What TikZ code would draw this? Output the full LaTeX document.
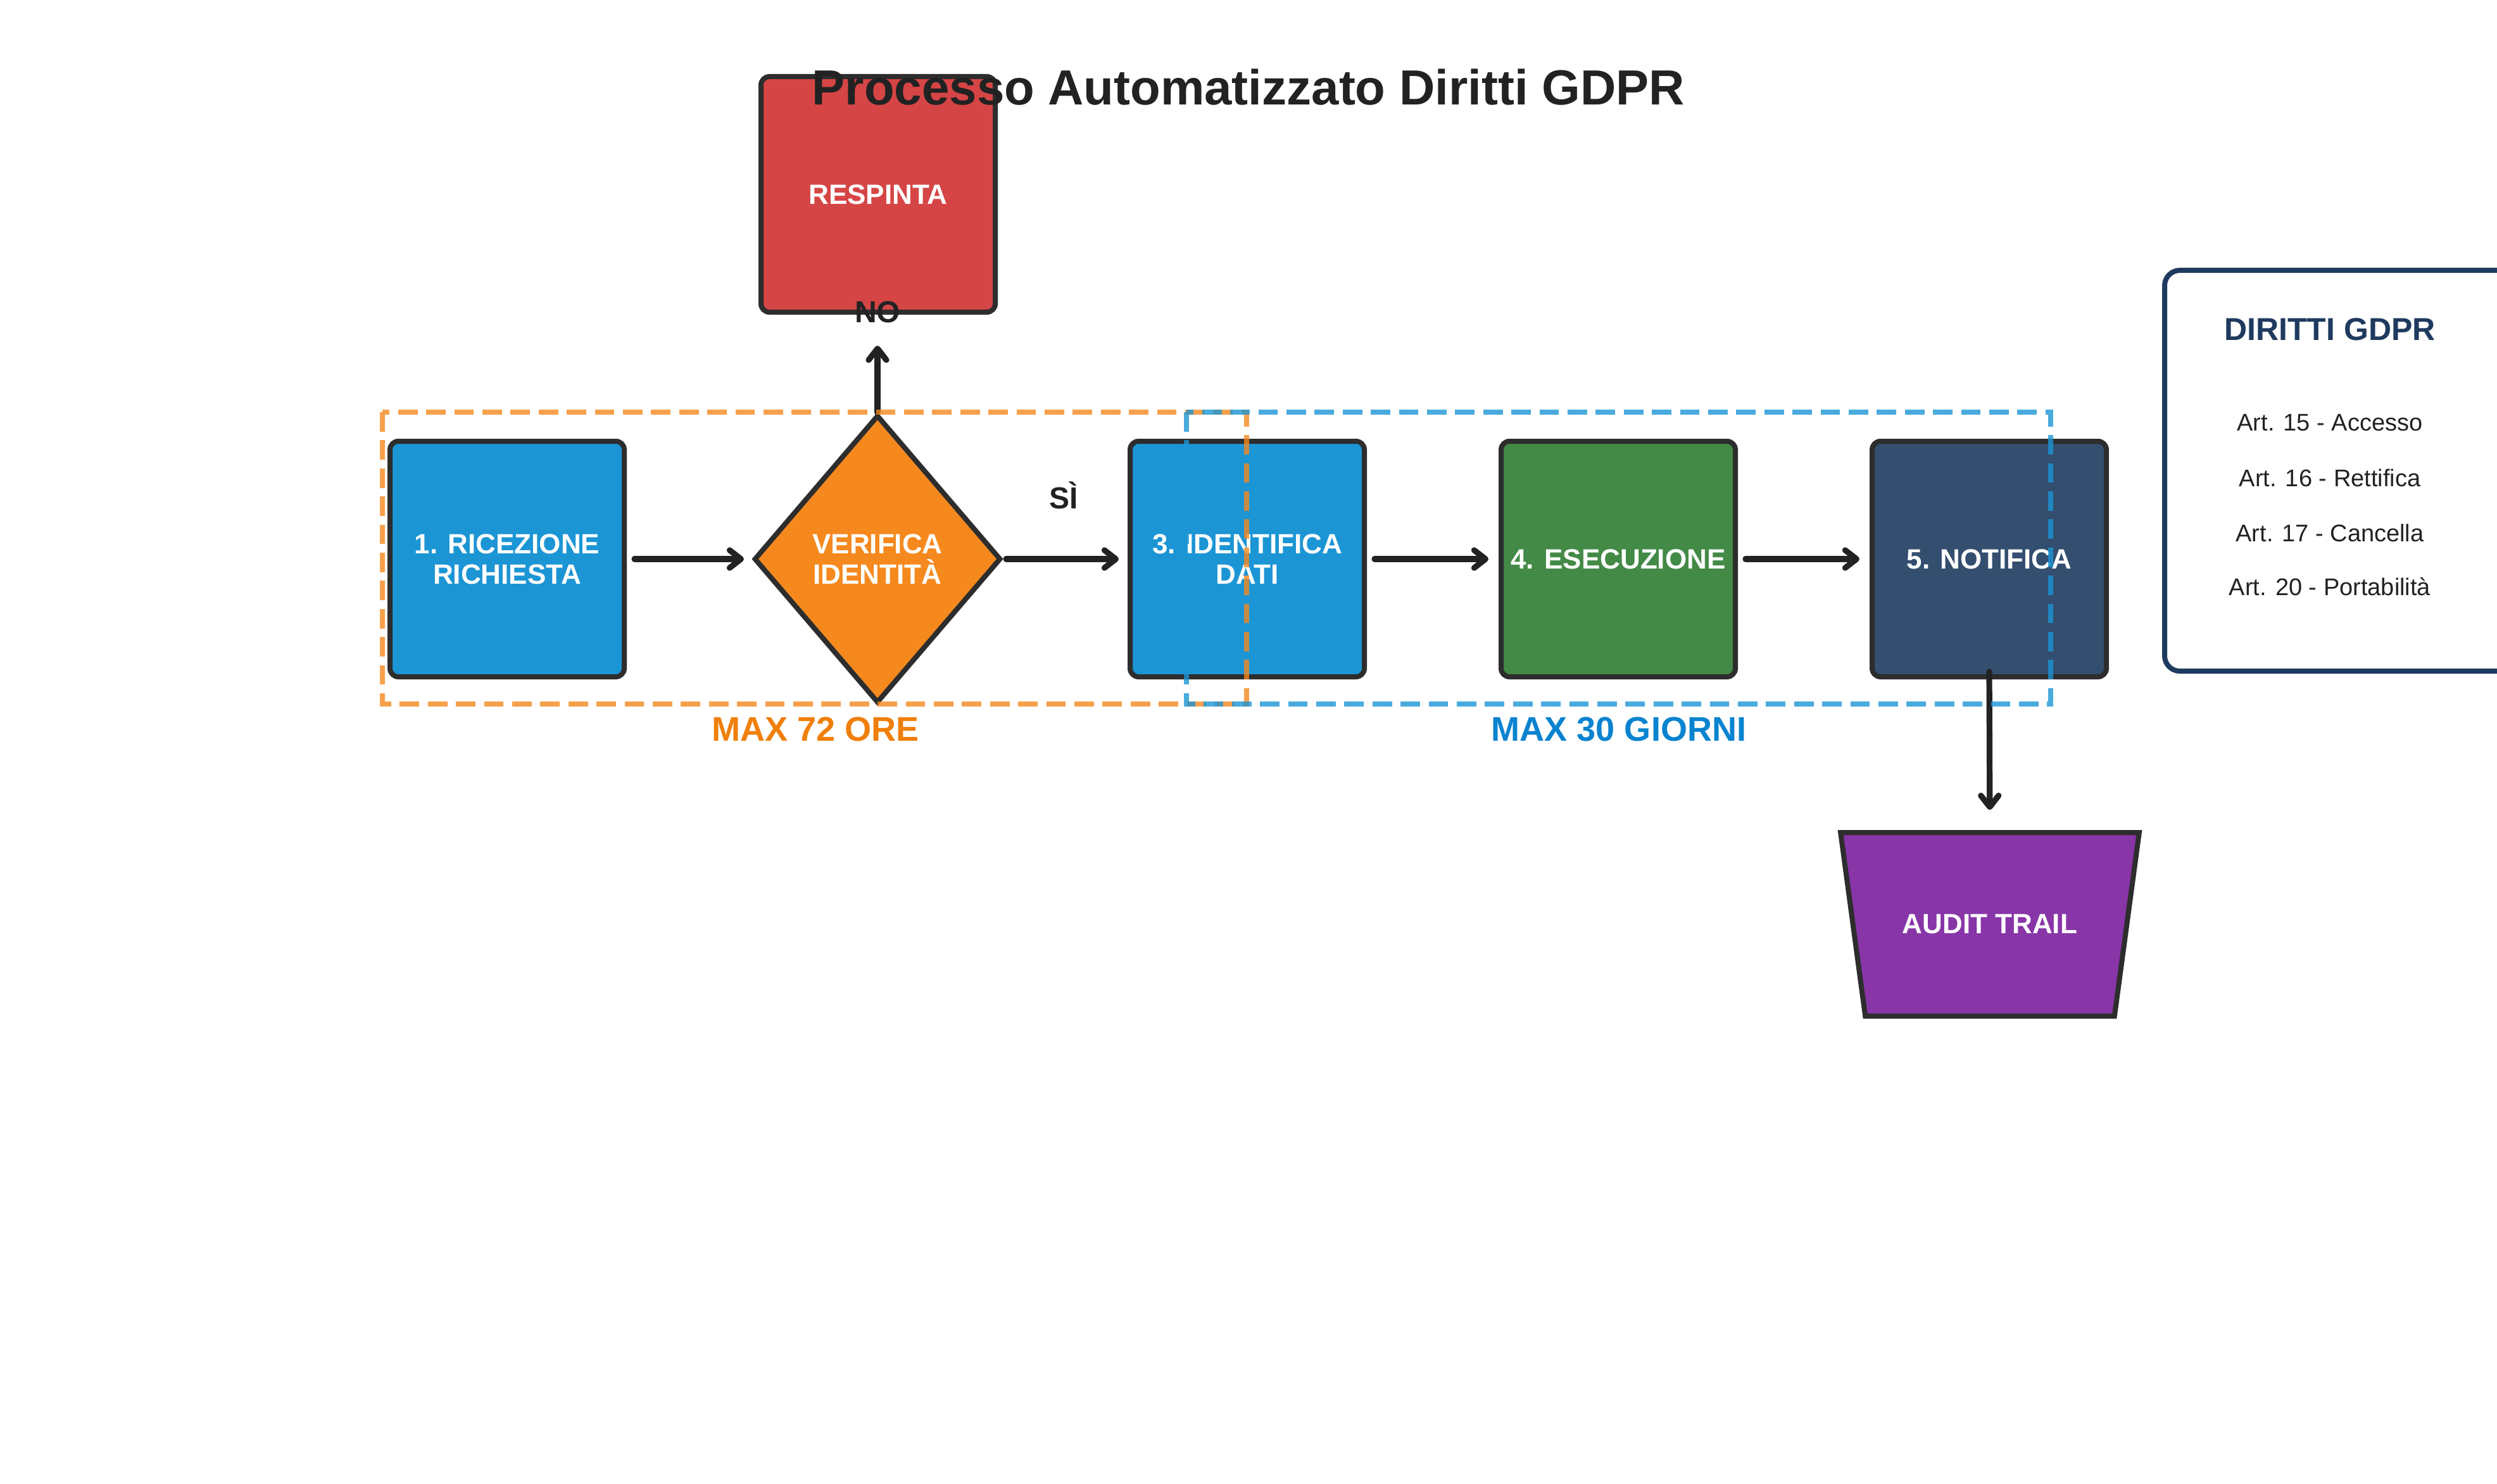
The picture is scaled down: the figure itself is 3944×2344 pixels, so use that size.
\documentclass[tikz,border=0pt]{standalone}
\usepackage{fontspec}
\setmainfont{Liberation Sans}
\usetikzlibrary{shapes.geometric,arrows.meta}
\definecolor{cblue}{HTML}{1C95D5}
\definecolor{corange}{HTML}{F5891E}
\definecolor{cgreen}{HTML}{438A47}
\definecolor{cnavy}{HTML}{344E6F}
\definecolor{cred}{HTML}{D64545}
\definecolor{cpurple}{HTML}{8835A8}
\definecolor{cborder}{HTML}{2D2D2D}
\definecolor{cpanel}{HTML}{1F3A5F}
\definecolor{ctext}{HTML}{222222}
\definecolor{lblorange}{HTML}{F07F0A}
\definecolor{lblblue}{HTML}{0883D0}
\begin{document}
\begin{tikzpicture}[x=0.25pt,y=-0.25pt,
  stepbox/.style={draw=cborder, line width=2pt, rounded corners=3.3pt,
    minimum width=92.5pt, minimum height=93pt, inner sep=0pt,
    text=white, align=center, font=\bfseries\fontsize{11}{12}\selectfont},
  decision/.style={diamond, draw=cborder, line width=2pt, fill=corange,
    minimum width=97.5pt, minimum height=113.75pt, inner sep=0pt,
    text=white, align=center, font=\bfseries\fontsize{11}{12}\selectfont},
  flow/.style={draw=ctext, line width=2.3pt, line cap=round,
    -{Straight Barb[length=4.5pt,width=7pt,round]}},
  zone/.style={line width=2pt, dash pattern=on 7.7pt off 3.4pt, draw opacity=0.8},
  lbl/.style={text=ctext, font=\bfseries\fontsize{12}{14}\selectfont},
  zonelbl/.style={font=\bfseries\fontsize{13.5}{16}\selectfont},
  art/.style={text=ctext, font=\fontsize{9.5}{11}\selectfont}]
\useasboundingbox (0,0) rectangle (3944,2344);
\clip (0,0) rectangle (3944,2344);
\fill[white] (0,0) rectangle (3944,2344);

% process nodes
\node[stepbox, fill=cred] (resp) at (1387,307) {RESPINTA};
\node[stepbox, fill=cblue] (b1) at (801,883) {1. RICEZIONE\\RICHIESTA};
\node[decision] (dia) at (1386,883) {VERIFICA\\IDENTITÀ};
\node[stepbox, fill=cblue] (b3) at (1970,883) {3. IDENTIFICA\\DATI};
\node[stepbox, fill=cgreen] (b4) at (2556,883) {4. ESECUZIONE};
\node[stepbox, fill=cnavy] (b5) at (3142,883) {5. NOTIFICA};

% audit trail (inverted trapezoid)
\node[minimum width=98pt, minimum height=72pt, inner sep=0pt] (audit) at (3143,1460) {};
\draw[draw=cborder, line width=2pt, fill=cpurple, line join=miter]
  ([xshift=-9.75pt]audit.north west) -- ([xshift=9.75pt]audit.north east)
  -- (audit.south east) -- (audit.south west) -- cycle;
\node[text=white, font=\bfseries\fontsize{11}{12}\selectfont] (audittxt) at (audit.center) {AUDIT TRAIL};

% connectors
\coordinate (noend) at (1386,546);
\draw[flow, shorten <=3pt, shorten >=3pt] (b1.east) -- (dia.west);
\draw[flow, shorten <=1pt, shorten >=3.5pt] (dia.east) -- (b3.west);
\draw[flow, shorten <=3pt, shorten >=4pt] (b3.east) -- (b4.west);
\draw[flow, shorten <=3pt, shorten >=4pt] (b4.east) -- (b5.west);
\draw[flow] (dia.north) -- (noend);
\draw[flow, shorten >=9pt] ([yshift=3pt]b5.south) -- (audit.north);

% time zones
\draw[zone, corange] (604,651) rectangle (1969,1112);
\draw[zone, cblue] (1874,651) rectangle (3239,1112);
\node[zonelbl, text=lblorange] (z72) at (1288,1152) {MAX 72 ORE};
\node[zonelbl, text=lblblue] (z30) at (2557,1152) {MAX 30 GIORNI};

% branch labels
\node[lbl] (lno) at (1386,493) {NO};
\node[lbl] (lsi) at (1680,782) {SÌ};

% rights panel
\node[draw=cpanel, line width=2pt, rounded corners=6pt, fill=white,
  anchor=north west, minimum width=150pt, minimum height=158.25pt] (panel) at (3415,423) {};
\node[text=cpanel, font=\bfseries\fontsize{12.5}{14}\selectfont] (ptitle) at (3680,520) {DIRITTI GDPR};
\node[art] (a15) at (3680,668) {Art. 15 - Accesso};
\node[art] (a16) at (3680,755) {Art. 16 - Rettifica};
\node[art] (a17) at (3680,842) {Art. 17 - Cancella};
\node[art] (a20) at (3680,927) {Art. 20 - Portabilità};

% title
\node[text=ctext, font=\bfseries\fontsize{19.5}{22}\selectfont] (title) at (1972,138) {Processo Automatizzato Diritti GDPR};
\end{tikzpicture}
\end{document}
